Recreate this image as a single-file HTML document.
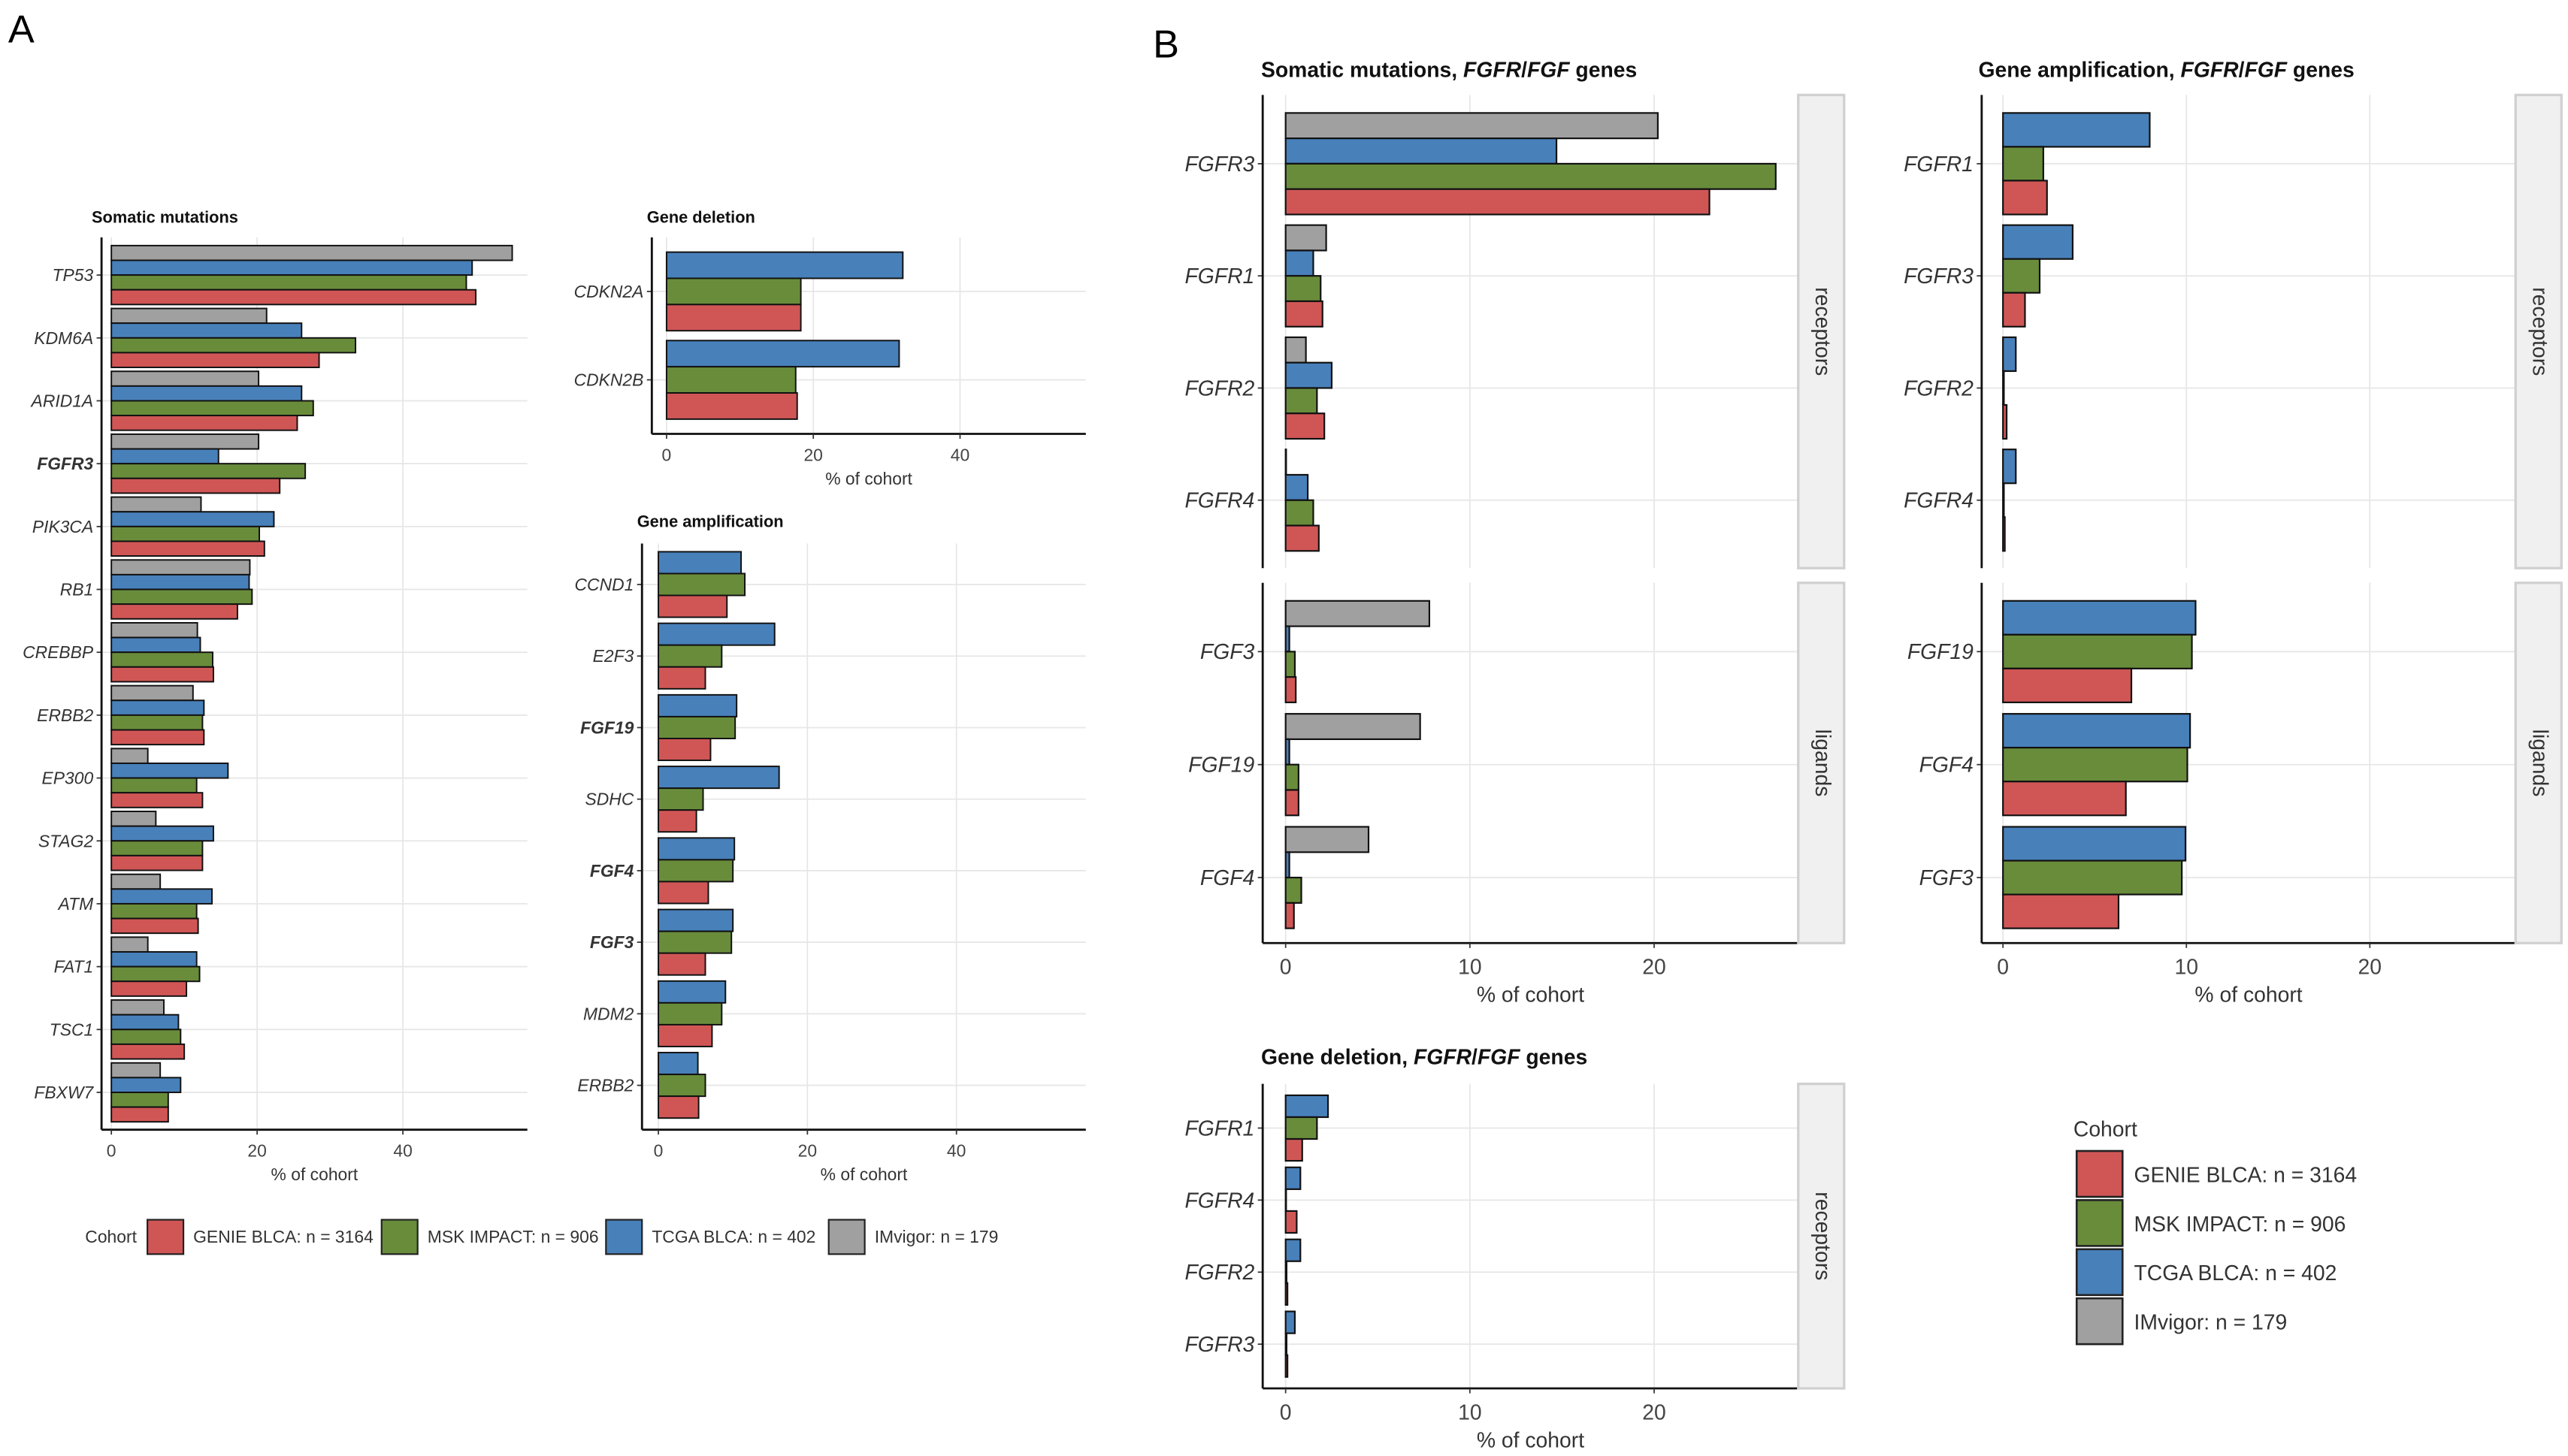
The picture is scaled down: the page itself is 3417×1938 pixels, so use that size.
<!DOCTYPE html>
<html><head><meta charset="utf-8">
<style>
html,body{margin:0;padding:0;background:#fff;}
svg{display:block;font-family:"Liberation Sans",Arial,sans-serif;}
</style></head>
<body>
<svg id="fig" width="3417" height="1938" viewBox="0 0 1568 889.3" preserveAspectRatio="none" xmlns="http://www.w3.org/2000/svg">
<text x="5" y="26" font-size="24">A</text>
<text x="704" y="35" font-size="24">B</text>
</svg>
<script>
// ---- Panel A: somatic mutations ----
const aSomGenes = ["TP53","KDM6A","ARID1A","FGFR3","PIK3CA","RB1","CREBBP","ERBB2","EP300","STAG2","ATM","FAT1","TSC1","FBXW7"];
const aSomGray  = [55,21.3,20.2,20.2,12.3,19,11.8,11.2,5,6.1,6.7,5,7.2,6.7];
const aSomBlue  = [49.5,26.1,26.1,14.7,22.3,18.9,12.2,12.7,16,14,13.8,11.7,9.2,9.5];
const aSomGreen = [48.7,33.5,27.7,26.6,20.3,19.3,13.9,12.5,11.7,12.5,11.7,12.1,9.5,7.8];
const aSomRed   = [50,28.5,25.5,23.1,21,17.3,14,12.7,12.5,12.5,11.9,10.3,10,7.8];
// ---- Panel A: gene deletion ----
const aDelGenes = ["CDKN2A","CDKN2B"];
const aDelBlue  = [32.2,31.7];
const aDelGreen = [18.3,17.6];
const aDelRed   = [18.3,17.8];
// ---- Panel A: gene amplification ----
const aAmpGenes = ["CCND1","E2F3","FGF19","SDHC","FGF4","FGF3","MDM2","ERBB2"];
const aAmpBlue  = [11.1,15.6,10.5,16.2,10.2,10,9,5.3];
const aAmpGreen = [11.6,8.5,10.3,6,10,9.8,8.5,6.3];
const aAmpRed   = [9.2,6.3,7,5.1,6.7,6.3,7.2,5.4];
// ---- Panel B: somatic mutations ----
const bSomRecGenes = ["FGFR3","FGFR1","FGFR2","FGFR4"];
const bSomRecGray  = [20.2,2.2,1.1,0];
const bSomRecBlue  = [14.7,1.5,2.5,1.2];
const bSomRecGreen = [26.6,1.9,1.7,1.5];
const bSomRecRed   = [23.0,2.0,2.1,1.8];
const bSomLigGenes = ["FGF3","FGF19","FGF4"];
const bSomLigGray  = [7.8,7.3,4.5];
const bSomLigBlue  = [0.2,0.2,0.2];
const bSomLigGreen = [0.5,0.7,0.85];
const bSomLigRed   = [0.55,0.7,0.45];
// ---- Panel B: amplification ----
const bAmpRecGenes = ["FGFR1","FGFR3","FGFR2","FGFR4"];
const bAmpRecBlue  = [8.0,3.8,0.7,0.7];
const bAmpRecGreen = [2.2,2.0,0.05,0.05];
const bAmpRecRed   = [2.4,1.2,0.2,0.1];
const bAmpLigGenes = ["FGF19","FGF4","FGF3"];
const bAmpLigBlue  = [10.5,10.2,9.95];
const bAmpLigGreen = [10.3,10.05,9.75];
const bAmpLigRed   = [7.0,6.7,6.3];
// ---- Panel B: deletion ----
const bDelGenes = ["FGFR1","FGFR4","FGFR2","FGFR3"];
const bDelBlue  = [2.3,0.8,0.8,0.5];
const bDelGreen = [1.7,0,0.05,0.05];
const bDelRed   = [0.9,0.6,0.1,0.1];
// legend
const cohorts = ["GENIE BLCA: n = 3164","MSK IMPACT: n = 906","TCGA BLCA: n = 402","IMvigor: n = 179"];
const ticksA = [0,20,40];
const ticksB = [0,10,20];

const COL = {red:"#d05656",green:"#698c3b",blue:"#4880ba",gray:"#a0a0a0"};
const NS = "http://www.w3.org/2000/svg";
const svg = document.getElementById("fig");
function mk(tag, attrs, parent){const e=document.createElementNS(NS,tag);for(const k in attrs)e.setAttribute(k,attrs[k]);(parent||svg).appendChild(e);return e;}
function txt(s, attrs, parent){const e=mk("text",attrs,parent);e.textContent=s;return e;}

function facet(o){
  const g=mk("g",{});
  
  
  const xs=v=>o.zero+v*o.unit;
  const n=o.genes.length;
  const cy=i=>o.c0+i*o.step;
  o.ticks.forEach(t=>{const l=mk("line",{x1:xs(t),x2:xs(t),y1:o.y0,y2:o.y1,stroke:"#e6e6e6","stroke-width":0.8},g);
    });
  for(let i=0;i<n;i++){const l=mk("line",{x1:o.x0,x2:o.x1,y1:cy(i),y2:cy(i),stroke:"#e6e6e6","stroke-width":0.8},g);
    }
  const nb=o.series.length, bh=o.group/nb;
  for(let i=0;i<n;i++){
    o.series.forEach((s,j)=>{
      const v=s.vals[i];
      const r=mk("rect",{x:xs(0),y:cy(i)-o.group/2+j*bh,width:Math.max(v*o.unit,0.3),height:bh,fill:COL[s.c],stroke:"#111","stroke-width":o.sw||1},g);
      
      
    });
    mk("line",{x1:o.x0-3,x2:o.x0,y1:cy(i),y2:cy(i),stroke:"#333","stroke-width":0.8},g);
    const t=txt(o.genes[i],{x:o.x0-5,y:cy(i)+o.fs*0.35,"font-size":o.fs,"font-style":"italic","font-weight":(o.bold&&o.bold.includes(o.genes[i]))?"bold":"normal","text-anchor":"end",fill:"#333"},g);
    
  }
  mk("line",{x1:o.x0,x2:o.x0,y1:o.y0,y2:o.y1,stroke:"#111","stroke-width":1.3},g);
  if(o.xaxis){
    mk("line",{x1:o.x0,x2:o.x1,y1:o.y1,y2:o.y1,stroke:"#111","stroke-width":1.3},g);
    o.ticks.forEach(t=>{mk("line",{x1:xs(t),x2:xs(t),y1:o.y1,y2:o.y1+3,stroke:"#333","stroke-width":0.8},g);
      const e=txt(String(t),{x:xs(t),y:o.y1+o.fs+6,"font-size":o.fs,"text-anchor":"middle",fill:"#444"},g);
      });
    const xt=txt("% of cohort",{x:(o.x0+o.x1)/2,y:o.y1+o.fs*2+10,"font-size":o.fs,"text-anchor":"middle",fill:"#333"},g);
    
  }
  if(o.strip){
    const sr=mk("rect",{x:o.x1,y:o.y0,width:28,height:o.y1-o.y0,fill:"#f0f0f0",stroke:"#d0d0d0","stroke-width":1.5},g);
    
    const cx=o.x1+14, cyy=(o.y0+o.y1)/2;
    const st=txt(o.strip,{x:cx,y:cyy,"font-size":13,"text-anchor":"middle",fill:"#333",transform:`rotate(90 ${cx} ${cyy})`,"dominant-baseline":"middle"},g);
    
  }
  return g;
}
function title(parts,x,y,fs,name){
  const t=mk("text",{x:x,y:y,"font-size":fs,"font-weight":"bold",fill:"#111"});
  
  parts.forEach(p=>{const s=mk("tspan",{},t);if(p[1])s.setAttribute("font-style","italic");s.textContent=p[0];});
}

// Panel A
title([["Somatic mutations"]],56,136,10,"somatic-mutations-title");
facet({name:"somatic-mutations-panel",genes:aSomGenes,series:[{c:"gray",vals:aSomGray},{c:"blue",vals:aSomBlue},{c:"green",vals:aSomGreen},{c:"red",vals:aSomRed}],
  x0:62,x1:322,y0:145,y1:690,zero:68,unit:4.45,c0:168,step:38.4,group:36,ticks:ticksA,fs:10.5,xaxis:true,bold:["FGFR3"],sw:0.9});
title([["Gene deletion"]],395,136,10,"gene-deletion-title");
facet({name:"gene-deletion-panel",genes:aDelGenes,series:[{c:"blue",vals:aDelBlue},{c:"green",vals:aDelGreen},{c:"red",vals:aDelRed}],
  x0:398,x1:663,y0:145,y1:265,zero:407,unit:4.48,c0:178,step:54,group:48,ticks:ticksA,fs:10.5,xaxis:true,sw:0.9});
title([["Gene amplification"]],389,322,10,"gene-amplification-title");
facet({name:"gene-amplification-panel",genes:aAmpGenes,series:[{c:"blue",vals:aAmpBlue},{c:"green",vals:aAmpGreen},{c:"red",vals:aAmpRed}],
  x0:392,x1:663,y0:332,y1:690,zero:402,unit:4.55,c0:357,step:43.7,group:40,ticks:ticksA,fs:10.5,xaxis:true,bold:["FGF19","FGF4","FGF3"],sw:0.9});
(function(){
  const g=mk("g",{});
  txt("Cohort",{x:52,y:759,"font-size":10.5,fill:"#333"},g);
  const sx=[90,233,370,506], cs=["red","green","blue","gray"];
  cohorts.forEach((c,i)=>{const r=mk("rect",{x:sx[i],y:745,width:22,height:21,fill:COL[cs[i]],stroke:"#222","stroke-width":1},g);
    
    txt(c,{x:sx[i]+28,y:759,"font-size":10.5,fill:"#333"},g);});
})();

// Panel B
title([["Somatic mutations, "],["FGFR",1],["/"],["FGF",1],[" genes"]],770,47,13,"b-somatic-title");
facet({name:"b-somatic-receptors",genes:bSomRecGenes,series:[{c:"gray",vals:bSomRecGray},{c:"blue",vals:bSomRecBlue},{c:"green",vals:bSomRecGreen},{c:"red",vals:bSomRecRed}],
  x0:771,x1:1098,y0:58,y1:347,zero:785,unit:11.25,c0:100,step:68.5,group:62,ticks:ticksB,fs:13,strip:"receptors"});
facet({name:"b-somatic-ligands",genes:bSomLigGenes,series:[{c:"gray",vals:bSomLigGray},{c:"blue",vals:bSomLigBlue},{c:"green",vals:bSomLigGreen},{c:"red",vals:bSomLigRed}],
  x0:771,x1:1098,y0:356,y1:576,zero:785,unit:11.25,c0:398,step:69,group:62,ticks:ticksB,fs:13,strip:"ligands",xaxis:true});
title([["Gene amplification, "],["FGFR",1],["/"],["FGF",1],[" genes"]],1208,47,13,"b-amplification-title");
facet({name:"b-amplification-receptors",genes:bAmpRecGenes,series:[{c:"blue",vals:bAmpRecBlue},{c:"green",vals:bAmpRecGreen},{c:"red",vals:bAmpRecRed}],
  x0:1210,x1:1536,y0:58,y1:347,zero:1223,unit:11.2,c0:100,step:68.5,group:62,ticks:ticksB,fs:13,strip:"receptors"});
facet({name:"b-amplification-ligands",genes:bAmpLigGenes,series:[{c:"blue",vals:bAmpLigBlue},{c:"green",vals:bAmpLigGreen},{c:"red",vals:bAmpLigRed}],
  x0:1210,x1:1536,y0:356,y1:576,zero:1223,unit:11.2,c0:398,step:69,group:62,ticks:ticksB,fs:13,strip:"ligands",xaxis:true});
title([["Gene deletion, "],["FGFR",1],["/"],["FGF",1],[" genes"]],770,650,13,"b-deletion-title");
facet({name:"b-deletion-receptors",genes:bDelGenes,series:[{c:"blue",vals:bDelBlue},{c:"green",vals:bDelGreen},{c:"red",vals:bDelRed}],
  x0:771,x1:1098,y0:662,y1:848,zero:785,unit:11.25,c0:689,step:44,group:40,ticks:ticksB,fs:13,strip:"receptors",xaxis:true});
(function(){
  const g=mk("g",{});
  txt("Cohort",{x:1266,y:694,"font-size":13,fill:"#333"},g);
  const cs=["red","green","blue","gray"];
  cohorts.forEach((c,i)=>{const r=mk("rect",{x:1268,y:703+i*30,width:28,height:28,fill:COL[cs[i]],stroke:"#222","stroke-width":1.2},g);
    
    txt(c,{x:1303,y:722+i*30,"font-size":13,fill:"#333"},g);});
})();
</script>
</body></html>
